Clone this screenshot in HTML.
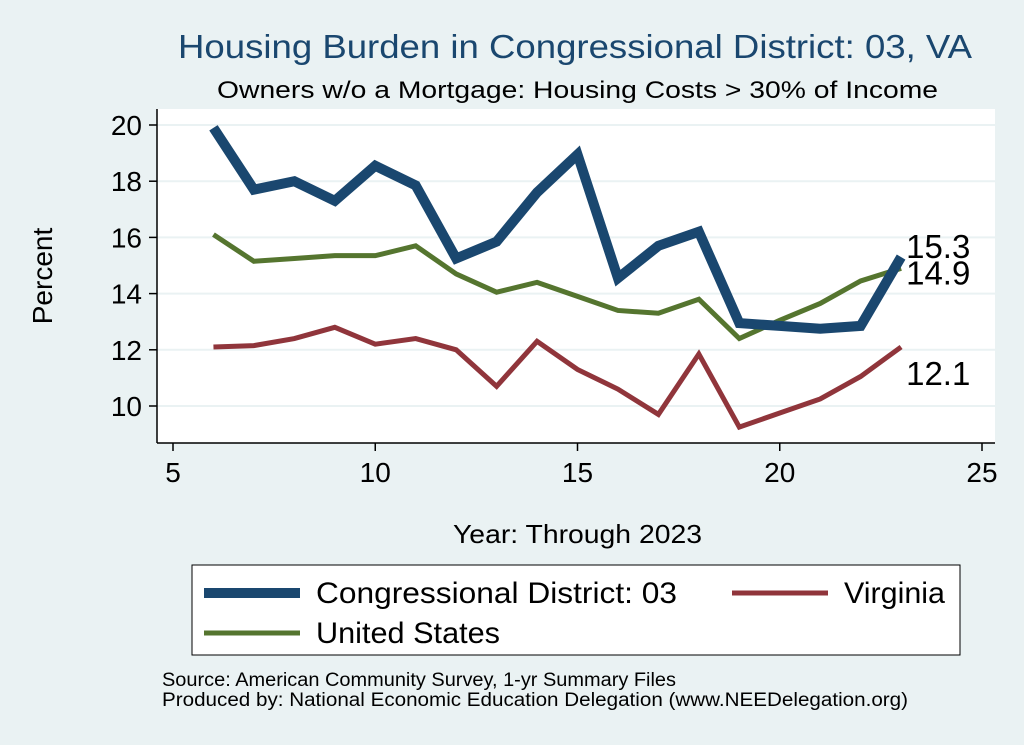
<!DOCTYPE html>
<html><head><meta charset="utf-8"><style>
body{margin:0;background:#eaf2f3;font-family:"Liberation Sans",sans-serif}
svg{display:block}
</style></head><body>
<svg id="chart" width="1024" height="745">
<rect x="0" y="0" width="1024" height="745" fill="#eaf2f3"/>
<text x="178" y="58" font-size="33" fill="#1a476f" textLength="794" lengthAdjust="spacingAndGlyphs">Housing Burden in Congressional District:  03, VA</text>
<text x="217" y="98" font-size="24" fill="#000" textLength="721" lengthAdjust="spacingAndGlyphs">Owners w/o a Mortgage: Housing Costs &gt; 30% of Income</text>
<rect x="157" y="109" width="838" height="334" fill="#fff"/>
<g id="grid"></g><g id="axes"></g><g id="series"></g>
<text x="52" y="276" font-size="28" text-anchor="middle" transform="rotate(-90 52 276)">Percent</text>
<text x="453" y="543" font-size="26" textLength="249" lengthAdjust="spacingAndGlyphs">Year: Through 2023</text>
<rect x="192" y="565" width="768" height="90" fill="#fff" stroke="#000" stroke-width="1"/>
<g><line x1="204" y1="593" x2="300" y2="593" stroke="#1a476f" stroke-width="10"/><text x="316" y="603" font-size="30" textLength="361" lengthAdjust="spacingAndGlyphs">Congressional District:  03</text></g>
<g><line x1="732" y1="593" x2="828" y2="593" stroke="#90353b" stroke-width="5"/><text x="844" y="603" font-size="30" textLength="101" lengthAdjust="spacingAndGlyphs">Virginia</text></g>
<g><line x1="204" y1="633" x2="300" y2="633" stroke="#55752f" stroke-width="5"/><text x="316" y="643" font-size="30" textLength="184" lengthAdjust="spacingAndGlyphs">United States</text></g>
<text x="162" y="686" font-size="19" textLength="514" lengthAdjust="spacingAndGlyphs">Source: American Community Survey, 1-yr Summary Files</text>
<text x="162" y="706" font-size="19" textLength="746" lengthAdjust="spacingAndGlyphs">Produced by: National Economic Education Delegation (www.NEEDelegation.org)</text>
</svg>
<script>
const years=[6,7,8,9,10,11,12,13,14,15,16,17,18,19,20,21,22,23];
const district=[19.9,17.7,18.0,17.3,18.55,17.85,15.25,15.85,17.6,18.95,14.55,15.7,16.2,12.95,12.85,12.75,12.85,15.3];
const unitedStates=[16.1,15.15,15.25,15.35,15.35,15.7,14.7,14.05,14.4,13.9,13.4,13.3,13.8,12.4,13.05,13.65,14.45,14.9];
const virginia=[12.1,12.15,12.4,12.8,12.2,12.4,12.0,10.7,12.3,11.3,10.6,9.7,11.85,9.25,9.75,10.25,11.05,12.1];
const xTicks=[5,10,15,20,25];
const yTicks=[10,12,14,16,18,20];
const NS="http://www.w3.org/2000/svg";
const xs=v=>173+(v-5)*40.45;
const ys=v=>125+(20-v)*28.1;
function mk(tag,attrs,parent){const e=document.createElementNS(NS,tag);for(const k in attrs)e.setAttribute(k,attrs[k]);document.getElementById(parent).appendChild(e);return e;}
mk('line',{x1:157,y1:109,x2:157,y2:443,stroke:'#000','stroke-width':1.5},'axes');
mk('line',{x1:157,y1:443,x2:995,y2:443,stroke:'#000','stroke-width':1.5},'axes');
yTicks.forEach(t=>{
 const g=mk('line',{x1:157,y1:ys(t),x2:995,y2:ys(t),stroke:'#eaf2f3','stroke-width':2},'grid');
 
 
 mk('line',{x1:149,y1:ys(t),x2:157,y2:ys(t),stroke:'#000','stroke-width':1.5},'axes');
 const tx=mk('text',{x:142,y:ys(t)+10,'font-size':28,'text-anchor':'end'},'axes');tx.textContent=t;
 
 
});
xTicks.forEach(t=>{
 mk('line',{x1:xs(t),y1:443,x2:xs(t),y2:451,stroke:'#000','stroke-width':1.5},'axes');
 const tx=mk('text',{x:xs(t),y:482,'font-size':28,'text-anchor':'middle'},'axes');tx.textContent=t;
 
 
});
function line(vals,color,w,name){
 const p=mk('polyline',{points:years.map((y,i)=>xs(y)+','+ys(vals[i])).join(' '),fill:'none',stroke:color,'stroke-width':w,'stroke-linejoin':'miter'},'series');
 
 
}
line(virginia,'#90353b',5,'virginia-line');
line(unitedStates,'#55752f',5,'united-states-line');
line(district,'#1a476f',10,'district-line');
function lab(vals,dy,name){const n=vals.length-1;const t=mk('text',{x:xs(years[n])+5,y:ys(vals[n])+dy,'font-size':33},'series');t.textContent=vals[n].toFixed(1);
 
 }
lab(district,1,'district-end-label');
lab(unitedStates,16,'united-states-end-label');
lab(virginia,38,'virginia-end-label');
</script>
</body></html>
